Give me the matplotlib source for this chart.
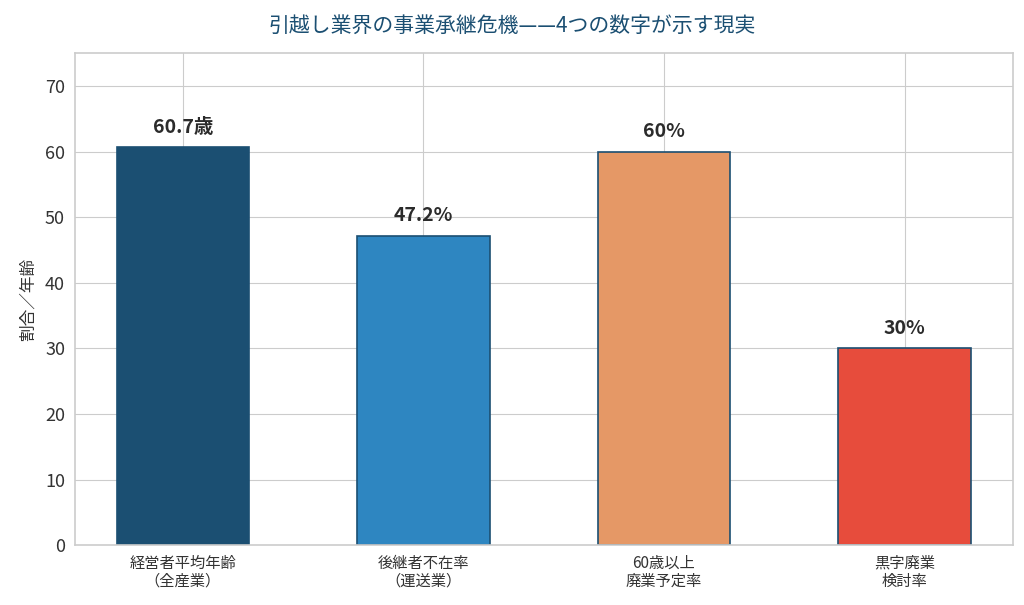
import matplotlib; matplotlib.use("Agg")
import matplotlib.pyplot as plt
import seaborn as sns

categories = ["経営者平均年齢\n（全産業）", "後継者不在率\n（運送業）", "60歳以上\n廃業予定率", "黒字廃業\n検討率"]
values = [60.7, 47.2, 60, 30]
value_labels = ["60.7歳", "47.2%", "60%", "30%"]
colors = ["#1b4f72", "#2e86c1", "#e59866", "#e74c3c"]

sns.set_style("whitegrid")
plt.rcParams['font.family'] = ['Noto Sans CJK JP', 'DejaVu Sans']

fig = plt.figure(figsize=(10.24, 6.05), dpi=100)
ax = fig.add_axes([0.073, 0.099, 0.916, 0.813])
x = range(len(categories))
bars = ax.bar(x, values, width=0.55, color=colors, edgecolor="#1b4f72", linewidth=1.2, zorder=2)
for b, lab in zip(bars, value_labels):
    ax.text(b.get_x() + b.get_width() / 2, b.get_height() + 1.6, lab,
            ha="center", va="bottom", fontsize=14, fontweight="bold", color="#2b2b2b")
ax.set_xticks(list(x))
ax.set_xticklabels(categories, fontsize=11, color="#333333", linespacing=1.05)
ax.set_xlim(-0.45, 3.45)
ax.set_ylim(0, 75)
ax.set_yticks(range(0, 80, 10))
ax.tick_params(axis="y", labelsize=13, colors="#333333")
ax.set_ylabel("割合／年齢", fontsize=12, color="#333333", labelpad=6)
ax.set_axisbelow(True)
for s in ax.spines.values():
    s.set_color("#cccccc"); s.set_linewidth(1.2)
fig.suptitle("引越し業界の事業承継危機——4つの数字が示す現実", fontsize=15, color="#1b4f72", y=0.975)
fig.savefig("out.png", dpi=100)
